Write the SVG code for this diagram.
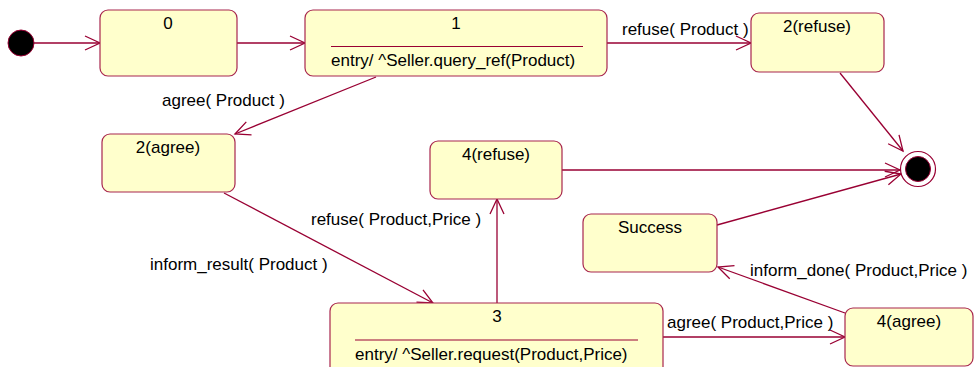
<svg xmlns="http://www.w3.org/2000/svg" width="974" height="367" viewBox="0 0 974 367">
<style>
.st{fill:#FFFFCC;stroke:#A8264E;stroke-width:1.2}
.ln{fill:none;stroke:#990033;stroke-width:1.3}
text{font-family:"Liberation Sans",Arial,sans-serif;font-size:17px;fill:#000}
.c{text-anchor:middle}
</style>
<defs>
<marker id="ah" markerUnits="userSpaceOnUse" markerWidth="16" markerHeight="14" refX="15" refY="7" orient="auto" overflow="visible">
<path d="M0,0 L15,7 L0,14" fill="none" stroke="#990033" stroke-width="1.3"/>
</marker>
</defs>
<rect width="974" height="367" fill="#fff"/>
<g id="connectors">
<line class="ln" x1="34" y1="43" x2="100" y2="43" marker-end="url(#ah)"/>
<line class="ln" x1="237" y1="43" x2="305" y2="43" marker-end="url(#ah)"/>
<line class="ln" x1="607" y1="43" x2="751" y2="43" marker-end="url(#ah)"/>
<line class="ln" x1="840" y1="73" x2="903" y2="151" marker-end="url(#ah)"/>
<line class="ln" x1="376" y1="77" x2="235" y2="134" marker-end="url(#ah)"/>
<line class="ln" x1="224" y1="193" x2="433" y2="303" marker-end="url(#ah)"/>
<line class="ln" x1="497" y1="303" x2="497" y2="199" marker-end="url(#ah)"/>
<line class="ln" x1="562" y1="170" x2="900" y2="170" marker-end="url(#ah)"/>
<line class="ln" x1="717" y1="225" x2="901" y2="174" marker-end="url(#ah)"/>
<line class="ln" x1="845" y1="313" x2="718" y2="267" marker-end="url(#ah)"/>
<line class="ln" x1="663" y1="337" x2="845" y2="337" marker-end="url(#ah)"/>
<text x="162" y="106">agree( Product )</text>
<text x="622" y="35">refuse( Product )</text>
<text x="150" y="270">inform_result( Product )</text>
<text x="311" y="225">refuse( Product,Price )</text>
<text x="750" y="276">inform_done( Product,Price )</text>
<text x="667" y="328">agree( Product,Price )</text>
</g>
<g id="initial"><circle cx="21" cy="43" r="13" fill="#000" stroke="#990033" stroke-width="1"/></g>
<g id="final"><circle cx="918" cy="169" r="17.5" fill="#fff" stroke="#990033" stroke-width="1.2"/><circle cx="918" cy="169" r="12.5" fill="#000" stroke="#990033" stroke-width="1"/></g>
<g id="s0"><rect class="st" x="100" y="10" width="137" height="66" rx="8"/><text class="c" x="168" y="29">0</text></g>
<g id="s1"><rect class="st" x="305" y="10" width="302" height="66" rx="8"/><text class="c" x="456" y="29">1</text><line x1="331" y1="46.5" x2="583" y2="46.5" stroke="#990033" stroke-width="1"/><text x="331" y="66">entry/ ^Seller.query_ref(Product)</text></g>
<g id="s2refuse"><rect class="st" x="751" y="13" width="133" height="59" rx="8"/><text class="c" x="817" y="32">2(refuse)</text></g>
<g id="s2agree"><rect class="st" x="102" y="134" width="133" height="58" rx="8"/><text class="c" x="168" y="153">2(agree)</text></g>
<g id="s4refuse"><rect class="st" x="430" y="141" width="132" height="58" rx="8"/><text class="c" x="496" y="160">4(refuse)</text></g>
<g id="success"><rect class="st" x="583" y="214" width="134" height="58" rx="8"/><text class="c" x="650" y="233">Success</text></g>
<g id="s3"><rect class="st" x="330" y="303" width="333" height="72" rx="8"/><text class="c" x="497" y="322">3</text><line x1="355" y1="340" x2="638" y2="340" stroke="#990033" stroke-width="1"/><text x="355" y="360">entry/ ^Seller.request(Product,Price)</text></g>
<g id="s4agree"><rect class="st" x="845" y="308" width="128" height="58" rx="8"/><text class="c" x="909" y="327">4(agree)</text></g>
</svg>
